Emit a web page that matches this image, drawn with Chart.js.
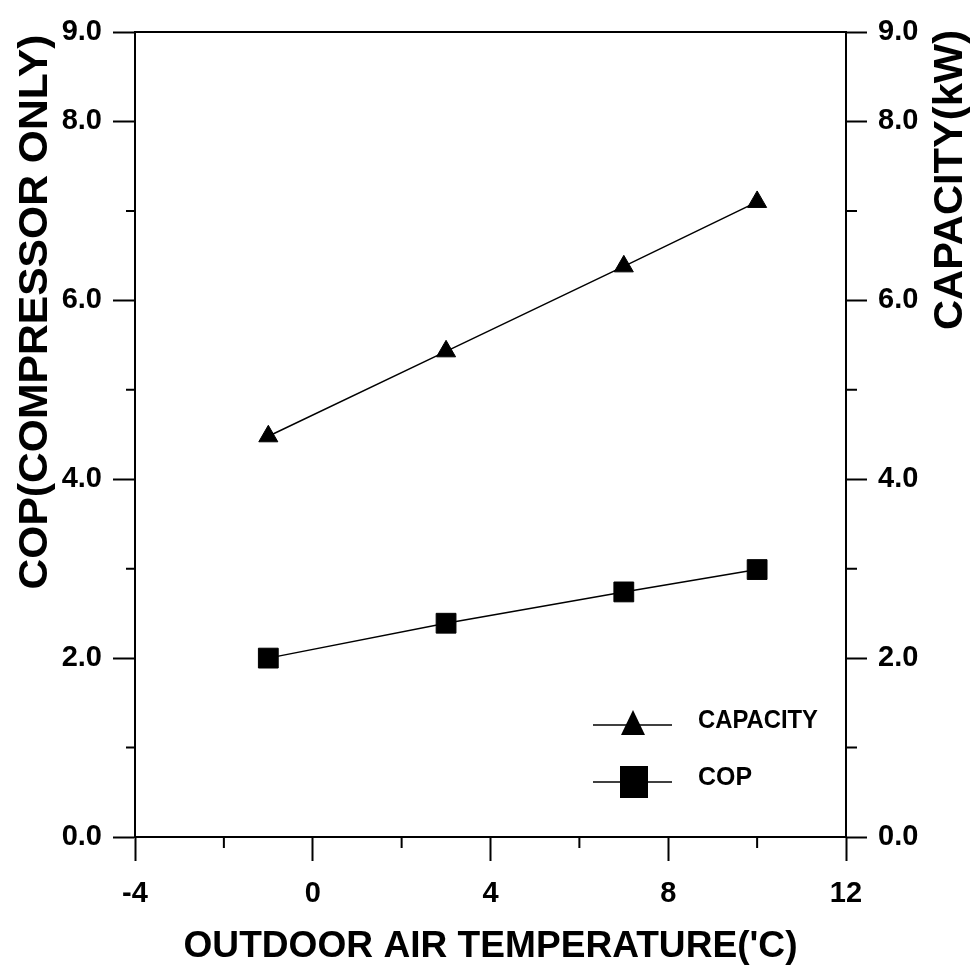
<!DOCTYPE html>
<html>
<head>
<meta charset="utf-8">
<script src="https://cdn.jsdelivr.net/npm/chart.js@4.4.1/dist/chart.umd.min.js"></script>
<style>
  html, body { margin: 0; padding: 0; background: #fff; }
  #wrap { width: 970px; height: 972px; }
</style>
</head>
<body>
<div id="wrap"><canvas id="copChart"></canvas></div>
<script>
// --- datos ---
const temps = [-1, 3, 7, 10];
const capacity = [4.48, 5.43, 6.38, 7.10];
const cop = [2.00, 2.39, 2.74, 2.99];

const xTicks = [-4, -2, 0, 2, 4, 6, 8, 10, 12];
const xLabels = [-4, 0, 4, 8, 12];
const yTicks = [0, 1, 2, 3, 4, 5, 6, 7, 8, 9];
const yLabels = [0, 2, 4, 6, 8, 9];

const seriesNames = ['CAPACITY', 'COP'];
const xTitle = "OUTDOOR AIR TEMPERATURE('C)";
const yTitle = 'COP(COMPRESSOR ONLY)';
const y2Title = 'CAPACITY(kW)';

const FONT = '"Liberation Sans", Arial, sans-serif';
Chart.defaults.font.family = FONT;
Chart.defaults.font.weight = 'bold';
Chart.defaults.color = '#000';

// texto ajustado a un ancho dado (la fuente original es algo condensada)
function fitText(ctx, text, x, y, width, size, rot, align) {
  ctx.save();
  ctx.translate(x, y);
  ctx.rotate(rot);
  ctx.font = 'bold ' + size + 'px ' + FONT;
  const w = ctx.measureText(text).width;
  ctx.scale(width / w, 1);
  ctx.textAlign = align || 'center';
  ctx.textBaseline = 'alphabetic';
  ctx.fillStyle = '#000';
  ctx.fillText(text, 0, 0);
  ctx.restore();
}

const decor = {
  id: 'decor',
  afterDraw(chart) {
    const { ctx, chartArea: a, scales } = chart;
    ctx.save();
    ctx.strokeStyle = '#000';
    ctx.lineWidth = 2;
    // borde superior
    ctx.beginPath();
    ctx.moveTo(a.left - 1, a.top);
    ctx.lineTo(a.right + 1, a.top);
    ctx.stroke();
    // ticks menores
    ctx.beginPath();
    xTicks.filter(v => !xLabels.includes(v)).forEach(v => {
      const px = scales.x.getPixelForValue(v);
      ctx.moveTo(px, a.bottom);
      ctx.lineTo(px, a.bottom + 11);
    });
    yTicks.filter(v => !yLabels.includes(v)).forEach(v => {
      const py = scales.y.getPixelForValue(v);
      ctx.moveTo(a.left - 9, py);
      ctx.lineTo(a.left, py);
      ctx.moveTo(a.right, py);
      ctx.lineTo(a.right + 11, py);
    });
    ctx.stroke();

    // titulos de ejes
    fitText(ctx, xTitle, (a.left + a.right) / 2, 957, 614, 36, 0);
    fitText(ctx, yTitle, 47, 312, 555, 40, -Math.PI / 2);
    fitText(ctx, y2Title, 962, 180, 300, 40, -Math.PI / 2);

    // leyenda
    ctx.lineWidth = 1.5;
    ctx.fillStyle = '#000';
    // CAPACITY
    ctx.beginPath();
    ctx.moveTo(593, 725); ctx.lineTo(672, 725);
    ctx.stroke();
    ctx.beginPath();
    ctx.moveTo(633, 710); ctx.lineTo(645, 735); ctx.lineTo(621, 735); ctx.closePath();
    ctx.fill();
    fitText(ctx, seriesNames[0], 698, 728, 120, 25, 0, 'left');
    // COP
    ctx.beginPath();
    ctx.moveTo(593, 782); ctx.lineTo(672, 782);
    ctx.stroke();
    ctx.fillRect(620, 766, 28, 32);
    fitText(ctx, seriesNames[1], 698, 785, 54, 26, 0, 'left');
    ctx.restore();
  }
};

const tickColor = (labels) => (c) => (c.tick && labels.includes(c.tick.value)) ? '#000' : 'rgba(0,0,0,0)';

new Chart(document.getElementById('copChart'), {
  type: 'line',
  data: {
    datasets: [
      {
        label: seriesNames[0],
        data: temps.map((t, i) => ({ x: t, y: capacity[i] })),
        borderColor: '#000', backgroundColor: '#000',
        borderWidth: 1.5, tension: 0,
        pointStyle: 'triangle', pointRadius: 11, pointBorderWidth: 1,
        yAxisID: 'y2'
      },
      {
        label: seriesNames[1],
        data: temps.map((t, i) => ({ x: t, y: cop[i] })),
        borderColor: '#000', backgroundColor: '#000',
        borderWidth: 1.5, tension: 0,
        pointStyle: 'rect', pointRadius: 14, pointBorderWidth: 1,
        yAxisID: 'y'
      }
    ]
  },
  options: {
    animation: false,
    responsive: true,
    maintainAspectRatio: false,
    layout: { padding: { top: 32 } },
    plugins: { legend: { display: false }, tooltip: { enabled: false } },
    scales: {
      x: {
        type: 'linear', min: -4, max: 12,
        afterBuildTicks: s => { s.ticks = xTicks.map(v => ({ value: v })); },
        afterFit: s => { s.height = 135; },
        border: { color: '#000', width: 2 },
        grid: { drawOnChartArea: false, tickLength: 24, tickWidth: 2, tickColor: tickColor(xLabels) },
        ticks: {
          autoSkip: false, maxRotation: 0, padding: 16,
          font: { size: 29, weight: 'bold' },
          callback: v => xLabels.includes(v) ? String(v) : ''
        }
      },
      y: {
        type: 'linear', position: 'left', min: 0, max: 9,
        afterBuildTicks: s => { s.ticks = yTicks.map(v => ({ value: v })); },
        afterFit: s => { s.width = 135; },
        border: { color: '#000', width: 2 },
        grid: { drawOnChartArea: false, tickLength: 22, tickWidth: 2, tickColor: tickColor(yLabels) },
        ticks: {
          autoSkip: false, padding: 11,
          font: { size: 29, weight: 'bold' },
          callback: v => yLabels.includes(v) ? v.toFixed(1) : ''
        }
      },
      y2: {
        type: 'linear', position: 'right', min: 0, max: 9,
        afterBuildTicks: s => { s.ticks = yTicks.map(v => ({ value: v })); },
        afterFit: s => { s.width = 124; },
        border: { color: '#000', width: 2 },
        grid: { drawOnChartArea: false, tickLength: 21, tickWidth: 2, tickColor: tickColor(yLabels) },
        ticks: {
          autoSkip: false, padding: 11,
          font: { size: 29, weight: 'bold' },
          callback: v => yLabels.includes(v) ? v.toFixed(1) : ''
        }
      }
    }
  },
  plugins: [decor]
});
</script>
</body>
</html>
